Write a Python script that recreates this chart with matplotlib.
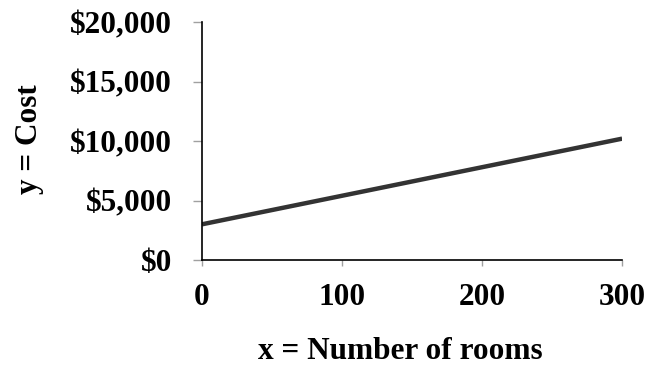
import matplotlib
matplotlib.use("Agg")
import matplotlib.pyplot as plt
from matplotlib.ticker import FuncFormatter

# data
rooms = [0, 300]
cost = [3000, 10200]
x_ticks = [0, 100, 200, 300]
y_ticks = [0, 5000, 10000, 15000, 20000]

plt.rcParams['font.family'] = ['Liberation Serif', 'DejaVu Serif']
plt.rcParams['font.weight'] = 'bold'

fig = plt.figure(figsize=(6.46, 3.68), dpi=100)
ax = fig.add_axes([0.3127, 0.2935, 0.963 - 0.3127, 0.940 - 0.2935])

ax.plot(rooms, cost, color='#333333', linewidth=3.2, solid_capstyle='butt')

ax.set_xlim(0, 300)
ax.set_ylim(0, 20000)
ax.set_xticks(x_ticks)
ax.set_yticks(y_ticks)
ax.yaxis.set_major_formatter(FuncFormatter(lambda v, p: f"${int(v):,}"))

for s in ['top', 'right']:
    ax.spines[s].set_visible(False)
for s in ['left', 'bottom']:
    ax.spines[s].set_color('black')
    ax.spines[s].set_linewidth(1.2)

ax.tick_params(axis='y', direction='out', length=6.5, width=1, color='#a0a0a0',
               labelsize=22.5, pad=15)
ax.tick_params(axis='x', direction='out', length=4.5, width=1, color='#a0a0a0',
               labelsize=22.5, pad=12)

ax.set_xlabel('x = Number of rooms', fontsize=22.5, fontweight='bold')
ax.set_ylabel('y = Cost', fontsize=22.5, fontweight='bold')
ax.xaxis.set_label_coords(0.472, -0.325)
ax.yaxis.set_label_coords(-0.377, 0.51)

plt.savefig('out.png', dpi=100)
